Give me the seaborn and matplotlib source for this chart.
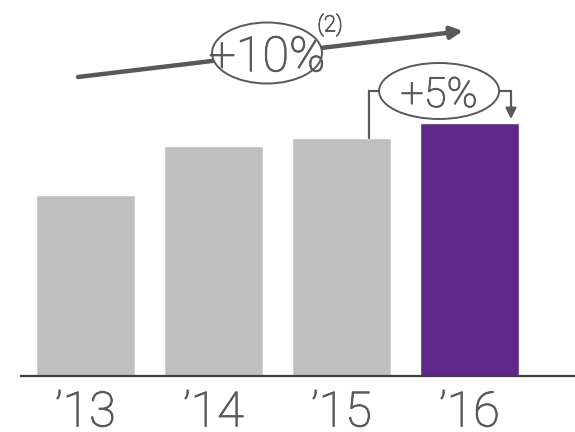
import matplotlib
matplotlib.use("Agg")
import matplotlib.pyplot as plt
import matplotlib.patheffects as pe
from matplotlib.patches import Ellipse
import seaborn as sns

# --- data ---
years = ["’13", "’14", "’15", "’16"]
values = [181, 230, 238, 253]
bar_colors = ["#BFBFBF", "#BFBFBF", "#BFBFBF", "#5F2788"]
total_growth = "+10%"
last_growth = "+5%"
footnote = "(2)"

DARK = "#595959"
WEIGHT = "light"
# Roboto Light renders a bit thinner than the original, thicken slightly
THICK = [pe.withStroke(linewidth=0.7, foreground=DARK)]

sns.set_theme(style="white")
plt.rcParams["font.family"] = ["Roboto", "DejaVu Sans"]

fig = plt.figure(figsize=(5.75, 4.32), dpi=100)
ax = fig.add_axes([21 / 575, 56 / 432, 554 / 575, 376 / 432])

sns.barplot(x=years, y=values, hue=years, palette=bar_colors, width=0.78,
            saturation=1, legend=False, ax=ax)

ax.set_xlim(-0.504, 3.824)
ax.set_ylim(0, 376)
ax.set_xlabel("")
ax.set_ylabel("")
ax.set_yticks([])
for side in ["left", "right", "top"]:
    ax.spines[side].set_visible(False)
ax.spines["bottom"].set_color("#3F3F3F")
ax.spines["bottom"].set_linewidth(1.6)
ax.tick_params(axis="x", length=0, pad=10, labelsize=35, labelcolor=DARK)
for lab in ax.get_xticklabels():
    lab.set_fontweight(WEIGHT)
    lab.set_path_effects(THICK)

# --- overall trend arrow with +10% bubble ---
ax.annotate("", xy=(2.949, 345), xytext=(-0.059, 299),
            arrowprops=dict(arrowstyle="-|>", color=DARK, lw=3.2,
                            mutation_scale=18, shrinkA=0, shrinkB=0),
            annotation_clip=False)
ax.add_patch(Ellipse((1.418, 323), 0.859, 61, facecolor="white",
                     edgecolor=DARK, lw=1.4, zorder=4))
ax.text(1.418, 323, total_growth, ha="center", va="center_baseline",
        fontsize=35, fontweight=WEIGHT, color=DARK, zorder=5,
        path_effects=THICK)
ax.text(1.91, 351, footnote, ha="center", va="center",
        fontsize=16, fontweight=WEIGHT, color=DARK, zorder=5,
        path_effects=THICK)

# --- year-over-year bracket with +5% bubble ---
y_mid = 285
x_left, x_right = 2.215, 3.324
ax.plot([x_left, x_left, 2.293], [values[2], y_mid, y_mid],
        color=DARK, lw=1.6, solid_joinstyle="miter", zorder=3)
ax.annotate("", xy=(x_right, values[3] + 4), xytext=(x_right, y_mid),
            arrowprops=dict(arrowstyle="-|>", color=DARK, lw=1.6,
                            mutation_scale=16, shrinkA=0, shrinkB=0),
            zorder=3)
ax.plot([3.234, x_right], [y_mid, y_mid], color=DARK, lw=1.6, zorder=3)
ax.add_patch(Ellipse((2.762, y_mid), 0.9375, 56, facecolor="white",
                     edgecolor=DARK, lw=1.4, zorder=4))
ax.text(2.762, y_mid, last_growth, ha="center", va="center_baseline",
        fontsize=30, fontweight=WEIGHT, color=DARK, zorder=5,
        path_effects=THICK)

# cropped header: only the bottoms of its brackets are visible
fig.text(220 / 575, 1 + 4 / 432, "(", ha="center", va="baseline",
         fontsize=14, fontweight=WEIGHT, color=DARK)
fig.text(383 / 575, 1 + 4 / 432, ")", ha="center", va="baseline",
         fontsize=14, fontweight=WEIGHT, color=DARK)

fig.savefig("out.png", dpi=100)
